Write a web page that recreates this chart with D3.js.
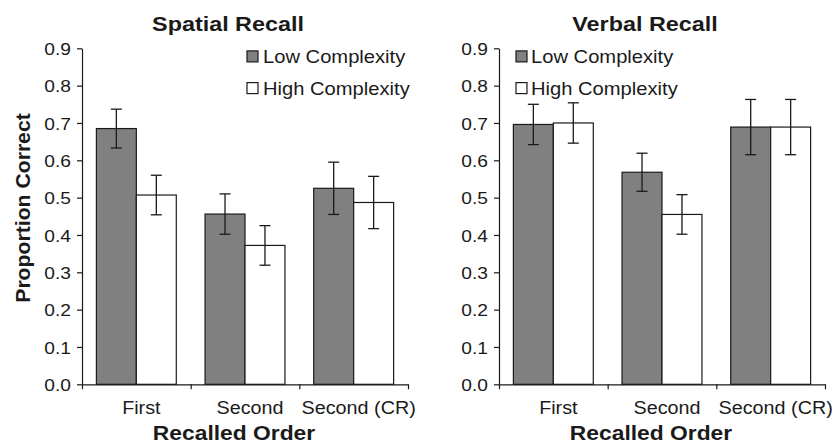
<!DOCTYPE html>
<html>
<head>
<meta charset="utf-8">
<script src="https://cdn.jsdelivr.net/npm/d3@7"></script>
<style>
  body { margin: 0; background: #fff; }
  svg { display: block; }
  svg text { font-family: "Liberation Sans", Arial, sans-serif; fill: #1a1a1a; }
</style>
</head>
<body>
<div id="chart"></div>
<script>
(function(){

// data
var categories = ["First", "Second", "Second (CR)"]
var series = ["Low Complexity", "High Complexity"]
var yTicks = [0, 0.1, 0.2, 0.3, 0.4, 0.5, 0.6, 0.7, 0.8, 0.9]

var spatialLow = [0.685, 0.456, 0.525]
var spatialLowErr = [0.052, 0.054, 0.070]
var spatialHigh = [0.507, 0.372, 0.487]
var spatialHighErr = [0.053, 0.053, 0.070]

var verbalLow = [0.696, 0.568, 0.689]
var verbalLowErr = [0.054, 0.051, 0.074]
var verbalHigh = [0.700, 0.455, 0.689]
var verbalHighErr = [0.054, 0.053, 0.074]

var panels = [
  {title: "Spatial Recall", left: 82, low: spatialLow, lowErr: spatialLowErr, high: spatialHigh, highErr: spatialHighErr, legendX: 165, legendTx: 181},
  {title: "Verbal Recall", left: 499, low: verbalLow, lowErr: verbalLowErr, high: verbalHigh, highErr: verbalHighErr, legendX: 17, legendTx: 32}
]

var colors = {"Low Complexity": "#808080", "High Complexity": "#ffffff"}
var SX = 1.13   // the picture's glyphs are a bit wider than Arial's
var top = 48.3, bottom = 384.3, width = 326

var svg = d3.select("#chart").append("svg")
    .attr("width", 840)
    .attr("height", 444)

// y label, shared
svg.append("text")
    .attr("transform", "translate(30,208) rotate(-90) scale(1.06,1)")
    .attr("text-anchor", "middle")
    .style("font-size", "20px")
    .style("font-weight", "bold")
    .text("Proportion Correct")

var y = d3.scaleLinear().domain([0, 0.9]).range([bottom - top, 0])

panels.forEach(function(p){
  var g = svg.append("g").attr("transform", "translate(" + p.left + "," + top + ")")
  var h = bottom - top

  var x0 = d3.scaleBand().domain(categories).range([0, width])
  var x1 = d3.scaleBand().domain(series).range([0, x0.bandwidth()]).paddingOuter(0.36)
  var xEdge = d3.scaleLinear().domain([0, categories.length]).range([0, width])

  var rows = categories.map(function(c, i){
    return [
      {cat: c, s: series[0], v: p.low[i], e: p.lowErr[i]},
      {cat: c, s: series[1], v: p.high[i], e: p.highErr[i]}
    ]
  })
  var flat = [].concat.apply([], rows)

  // bars
  g.selectAll("rect.bar")
    .data(flat)
    .enter()
    .append("rect")
    .attr("class", "bar")
    .attr("x", function(d){ return x0(d.cat) + x1(d.s) })
    .attr("y", function(d){ return y(d.v) })
    .attr("width", x1.bandwidth())
    .attr("height", function(d){ return h - y(d.v) })
    .attr("fill", function(d){ return colors[d.s] })
    .attr("stroke", "#1a1a1a")
    .attr("stroke-width", 1.2)

  // error bars
  var eb = g.selectAll("g.err")
    .data(flat)
    .enter()
    .append("g")
    .attr("class", "err")
    .attr("transform", function(d){ return "translate(" + (x0(d.cat) + x1(d.s) + x1.bandwidth() / 2) + ",0)" })
  eb.append("line")
    .attr("y1", function(d){ return y(d.v + d.e) })
    .attr("y2", function(d){ return y(d.v - d.e) })
  eb.append("line")
    .attr("x1", -5.5).attr("x2", 5.5)
    .attr("y1", function(d){ return y(d.v + d.e) })
    .attr("y2", function(d){ return y(d.v + d.e) })
  eb.append("line")
    .attr("x1", -5.5).attr("x2", 5.5)
    .attr("y1", function(d){ return y(d.v - d.e) })
    .attr("y2", function(d){ return y(d.v - d.e) })
  eb.selectAll("line").attr("stroke", "#1a1a1a").attr("stroke-width", 1.3)

  // y axis
  var ya = g.append("g")
    .call(d3.axisLeft(y).tickValues(yTicks).tickSize(5).tickSizeOuter(0).tickFormat(d3.format(".1f")))
  ya.selectAll("text")
    .attr("x", null)
    .attr("dy", "0.37em")
    .attr("transform", "translate(-11,0) scale(" + SX + ",1)")
    .style("font-size", "17px")
    .attr("fill", "#1a1a1a")

  // x axis: boundary ticks
  g.append("g")
    .attr("transform", "translate(0," + h + ")")
    .call(d3.axisBottom(xEdge).tickValues(d3.range(categories.length + 1)).tickSize(5).tickSizeOuter(0).tickFormat(""))

  // x axis: category labels
  var xa = g.append("g")
    .attr("transform", "translate(0," + h + ")")
    .call(d3.axisBottom(x0).tickSize(0))
  xa.select(".domain").remove()
  xa.selectAll("text")
    .attr("y", null)
    .attr("dy", null)
    .attr("transform", "translate(5,29.7) scale(" + SX + ",1)")
    .style("font-size", "17.5px")
    .attr("fill", "#1a1a1a")

  g.selectAll(".domain, .tick line").attr("stroke", "#1a1a1a").attr("stroke-width", 1.2)
  g.selectAll(".tick text").style("font-family", "'Liberation Sans', Arial, sans-serif")

  // title
  g.append("text")
    .attr("transform", "translate(" + (width / 2 - 17) + "," + (30.7 - top) + ") scale(1.14,1)")
    .attr("text-anchor", "middle")
    .style("font-size", "20.5px")
    .style("font-weight", "bold")
    .text(p.title)

  // x title (kept just inside the bottom edge)
  g.append("text")
    .attr("transform", "translate(" + (width / 2 - 11) + "," + (439.6 - top) + ") scale(1.17,1)")
    .attr("text-anchor", "middle")
    .style("font-size", "19.5px")
    .style("font-weight", "bold")
    .text("Recalled Order")

  // legend
  var lg = g.selectAll("g.legend")
    .data(series)
    .enter()
    .append("g")
    .attr("class", "legend")
    .attr("transform", function(d, i){ return "translate(0," + (62.9 - top + i * 31.7) + ")" })
  lg.append("rect")
    .attr("x", p.legendX)
    .attr("y", -12)
    .attr("width", 11)
    .attr("height", 11)
    .attr("fill", function(d){ return colors[d] })
    .attr("stroke", "#1a1a1a")
    .attr("stroke-width", 1.2)
  lg.append("text")
    .attr("transform", "translate(" + p.legendTx + ",0) scale(1.12,1)")
    .style("font-size", "18px")
    .text(function(d){ return d })
})

})();
</script>
</body>
</html>
